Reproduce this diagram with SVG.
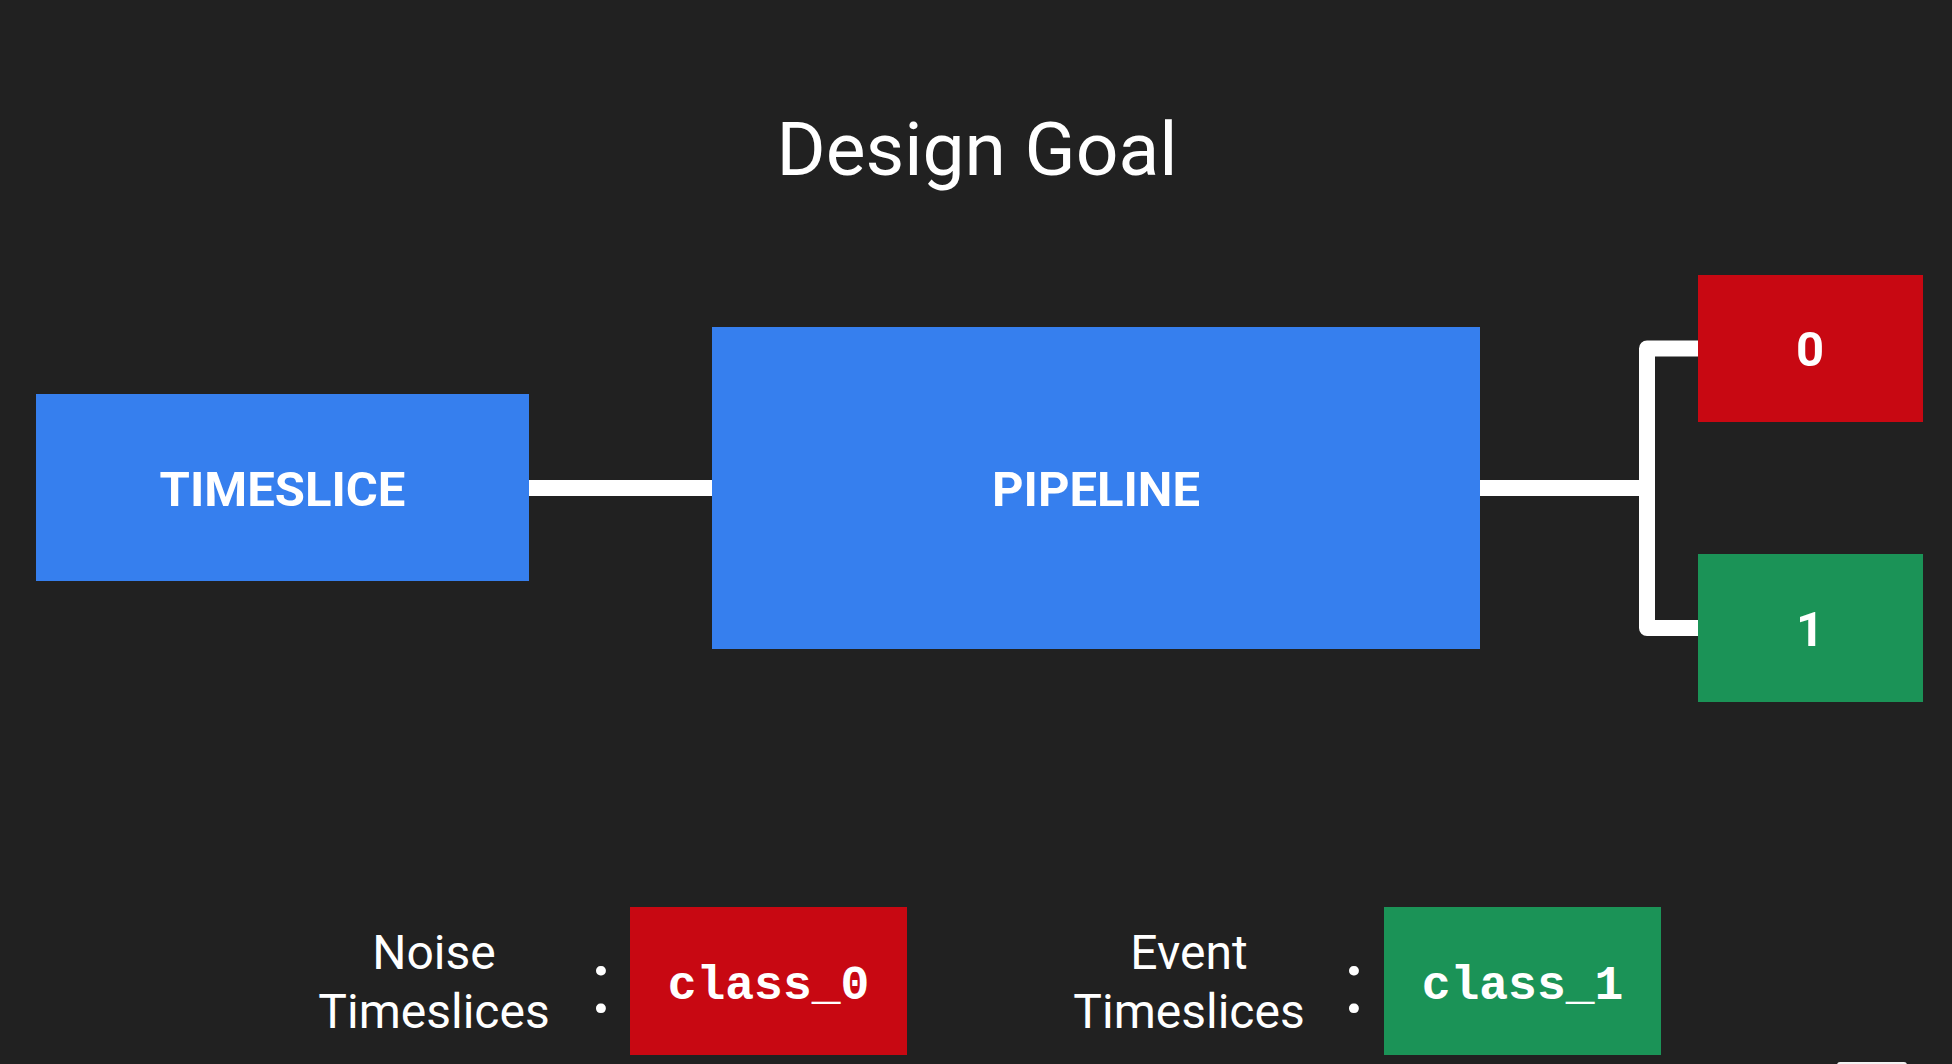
<svg xmlns="http://www.w3.org/2000/svg" width="1952" height="1064" viewBox="0 0 1952 1064">
<style>
.title{font-family:Roboto,"Liberation Sans",sans-serif;font-size:75px;fill:#fff;text-anchor:middle}
.box{font-family:Roboto,"Liberation Sans",sans-serif;font-weight:700;font-size:49px;fill:#fff;text-anchor:middle}
.lbl{font-family:Roboto,"Liberation Sans",sans-serif;font-size:48px;fill:#fff;text-anchor:middle}
.colon{font-family:Roboto,"Liberation Sans",sans-serif;font-size:88px;fill:#fff;text-anchor:middle}
.mono{font-family:"Liberation Mono","Courier New",monospace;font-weight:700;font-size:48px;fill:#fff;text-anchor:middle}
.blue{fill:#367fee}
.red{fill:#c80812}
.green{fill:#1b9357}
.conn{fill:none;stroke:#fff;stroke-width:16;stroke-linejoin:round}
</style>
<rect width="1952" height="1064" fill="#212121"/>
<text class="title" x="977" y="175">Design Goal</text>
<g id="connectors">
<line class="conn" x1="529" y1="488" x2="712" y2="488"/>
<line class="conn" x1="1480" y1="488" x2="1647" y2="488"/>
<path class="conn" d="M1698 348.5 H1647 V628 H1698"/>
</g>
<g id="timeslice">
<rect class="blue" x="36" y="394" width="493" height="187"/>
<text class="box" x="282.5" y="506">TIMESLICE</text>
</g>
<g id="pipeline">
<rect class="blue" x="712" y="327" width="768" height="322"/>
<text class="box" x="1096" y="506">PIPELINE</text>
</g>
<g id="out0">
<rect class="red" x="1698" y="275" width="225" height="147"/>
<text class="box" x="1810" y="366">0</text>
</g>
<g id="out1">
<rect class="green" x="1698" y="554" width="225" height="148"/>
<text class="box" x="1810" y="646">1</text>
</g>
<g id="legend0">
<text class="lbl" x="434" y="969">Noise</text>
<text class="lbl" x="434" y="1028">Timeslices</text>
<text class="colon" x="601" y="1012">:</text>
<rect class="red" x="630" y="907" width="277" height="148"/>
<text class="mono" x="768.5" y="999">class_0</text>
</g>
<g id="legend1">
<text class="lbl" x="1189" y="969">Event</text>
<text class="lbl" x="1189" y="1028">Timeslices</text>
<text class="colon" x="1354" y="1012">:</text>
<rect class="green" x="1384" y="907" width="277" height="148"/>
<text class="mono" x="1522.5" y="999">class_1</text>
</g>
<rect x="1837" y="1062" width="70" height="8" rx="3" fill="#f2f2f2"/>
</svg>
